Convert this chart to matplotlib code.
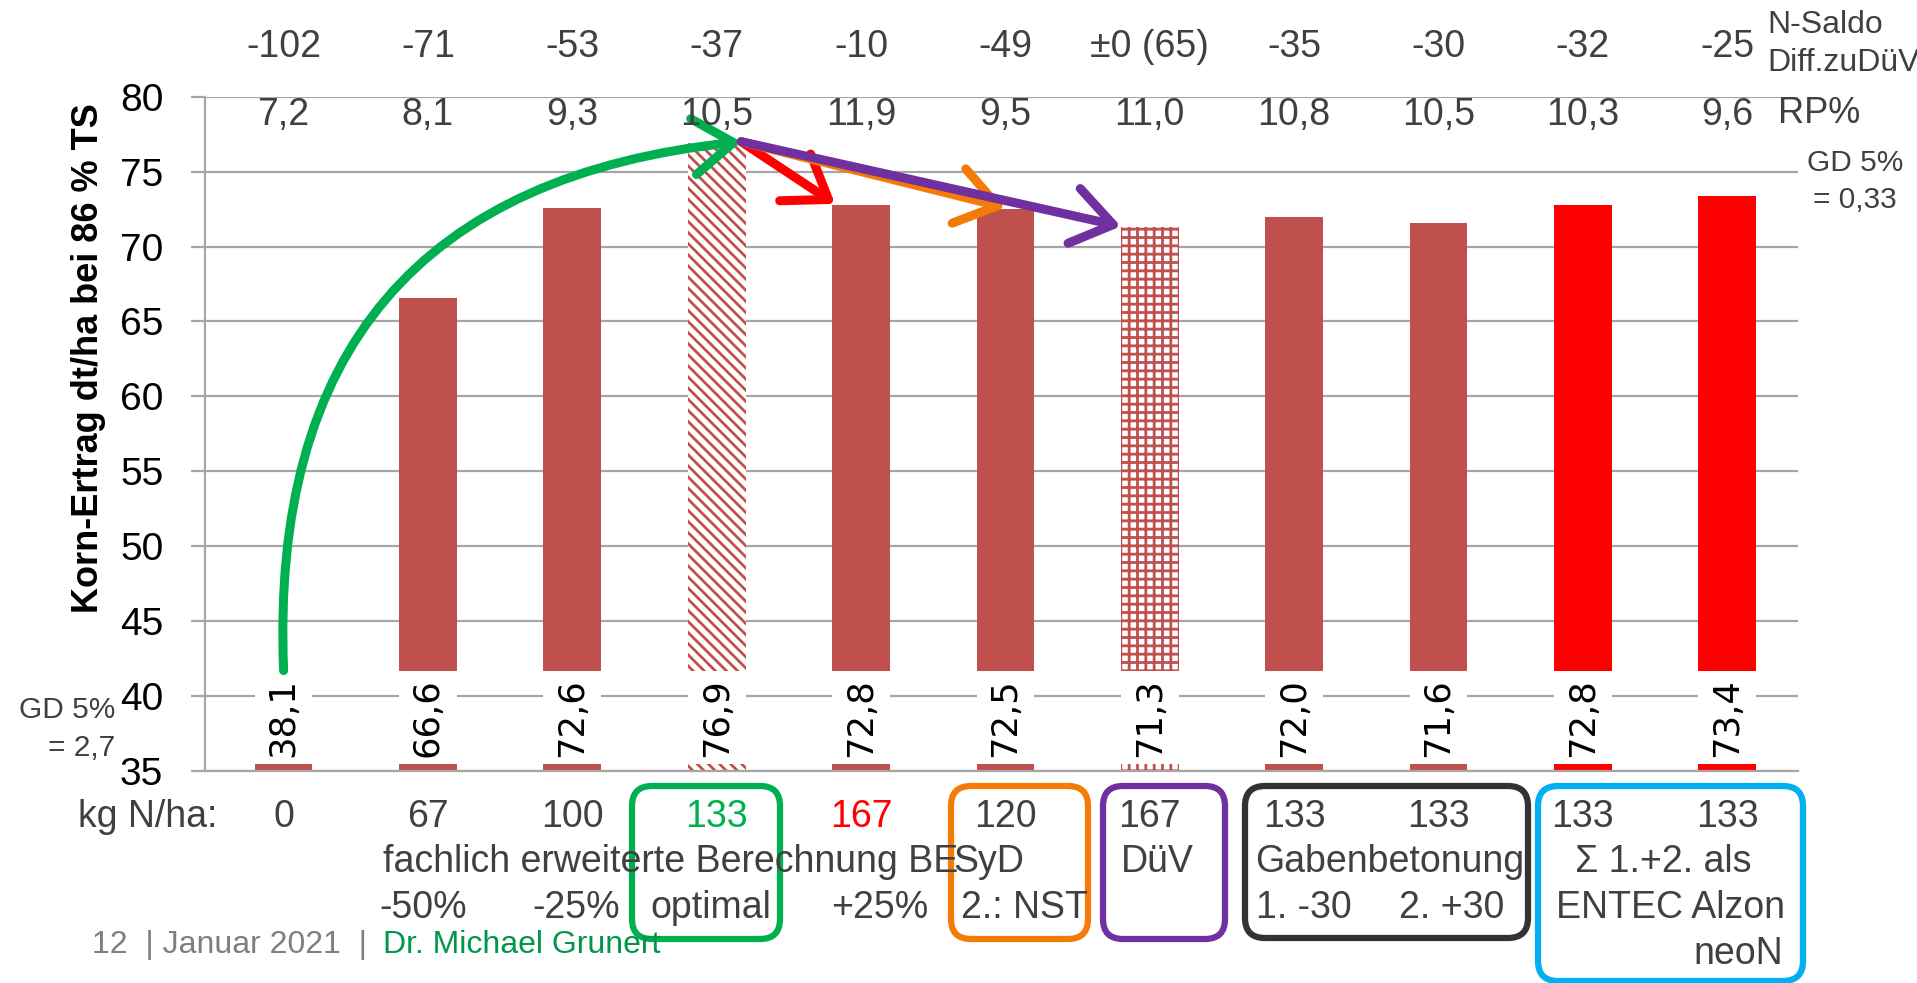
import matplotlib.pyplot as plt
import matplotlib.transforms as mtransforms
from matplotlib.patches import FancyBboxPatch, FancyArrowPatch

# Kornertrag dt/ha bei 86 % TS je Variante
ertrag = [38.1, 66.6, 72.6, 76.9, 72.8, 72.5, 71.3, 72.0, 71.6, 72.8, 73.4]
n_saldo = ['-102', '-71', '-53', '-37', '-10', '-49', '±0 (65)', '-35', '-30', '-32', '-25']
rp_proz = ['7,2', '8,1', '9,3', '10,5', '11,9', '9,5', '11,0', '10,8', '10,5', '10,3', '9,6']
kg_n = ['0', '67', '100', '133', '167', '120', '167', '133', '133', '133', '133']
kg_n_farbe = ['#404040', '#404040', '#404040', '#00B050', '#FF0000', '#404040',
              '#404040', '#404040', '#404040', '#404040', '#404040']
bar_farbe = ['#C0504D'] * 9 + ['#FF0000'] * 2
bar_hatch = [None, None, None, '\\\\\\', None, None, '++', None, None, None, None]

FONT = ['Liberation Sans', 'DejaVu Sans']
DARK = '#404040'
GRID = '#A6A6A6'
plt.rcParams['hatch.linewidth'] = 2.0

fig = plt.figure(figsize=(19.17, 9.83), dpi=100)
ax = fig.add_axes([0.1069, 0.2157, 0.831, 0.6859])

x = list(range(len(ertrag)))
for i in x:
    if bar_hatch[i]:
        ax.bar(i, ertrag[i] - 35, bottom=35, width=0.4, facecolor='white',
               edgecolor=bar_farbe[i], linewidth=0, hatch=bar_hatch[i], zorder=2)
    else:
        ax.bar(i, ertrag[i] - 35, bottom=35, width=0.4, color=bar_farbe[i], zorder=2)

# weisser Bereich fuer die Achsenunterbrechung
ax.bar(x, 41.7 - 35.45, bottom=35.45, width=0.4, color='white', zorder=3)
for i in x:
    ax.text(i, 38.55, f'{ertrag[i]:.1f}'.replace('.', ','), rotation=90,
            ha='center', va='center', fontsize=25.5, family='DejaVu Sans',
            color='black', zorder=4)

ax.set_xlim(-0.545, 10.49)
ax.set_ylim(35, 80)
ax.set_yticks(range(35, 81, 5))
ax.set_xticks([])
ax.set_axisbelow(True)
ax.yaxis.grid(True, color=GRID, linewidth=1.6)
for s in ['top', 'right']:
    ax.spines[s].set_visible(False)
ax.spines['left'].set_color(GRID)
ax.spines['left'].set_linewidth(1.6)
ax.spines['bottom'].set_color(GRID)
ax.spines['bottom'].set_linewidth(1.6)
ax.tick_params(axis='y', length=10, width=1.6, color=GRID, pad=20,
               labelsize=28, labelcolor='black')
for lab in ax.get_yticklabels():
    lab.set_family(FONT)

fig.text(0.046, 0.636, 'Korn-Ertrag dt/ha bei 86 % TS', rotation=90,
         ha='center', va='center', fontsize=26, weight='bold',
         family=FONT, color='black')

tr = mtransforms.blended_transform_factory(ax.transData, fig.transFigure)

def txt(xp, yp, s, ha='center', color=DARK, size=27):
    fig.text(xp, yp, s, transform=tr, ha=ha, va='center', fontsize=size,
             family=FONT, color=color)

for i in x:
    txt(i, 0.952, n_saldo[i])
    txt(i, 0.883, rp_proz[i])
    txt(i, 0.169, kg_n[i], color=kg_n_farbe[i])

txt(-0.46, 0.169, 'kg N/ha:', ha='right')

# Beschriftung der Varianten
txt(0.686, 0.123, 'fachlich erweiterte Berechnung BE', ha='left')
txt(4.64, 0.123, 'SyD', ha='left')
txt(6.05, 0.123, 'DüV')
txt(7.66, 0.123, 'Gabenbetonung')
txt(9.56, 0.123, 'Σ 1.+2. als')
txt(0.97, 0.076, '-50%')
txt(2.03, 0.076, '-25%')
txt(2.96, 0.076, 'optimal')
txt(4.13, 0.076, '+25%')
txt(4.69, 0.076, '2.: NST', ha='left')
txt(7.07, 0.076, '1. -30')
txt(8.09, 0.076, '2. +30')
txt(9.61, 0.076, 'ENTEC Alzon')
txt(10.39, 0.029, 'neoN', ha='right')

def ftxt(xp, yp, s, ha='left', size=23, color=DARK):
    fig.text(xp, yp, s, ha=ha, va='center', fontsize=size, family=FONT, color=color)

ftxt(0.9217, 0.975, 'N-Saldo')
ftxt(0.9217, 0.936, 'Diff.zuDüV')
ftxt(0.9275, 0.885, 'RP%', size=26)
ftxt(0.9677, 0.834, 'GD 5%', ha='center', size=21.5)
ftxt(0.9677, 0.797, '= 0,33', ha='center', size=21.5)
ftxt(0.060, 0.278, 'GD 5%', ha='right', size=21.5)
ftxt(0.060, 0.239, '= 2,7', ha='right', size=21.5)

# Fusszeile
ftxt(0.048, 0.039, '12  | Januar 2021  |', color='#7F7F7F')
ftxt(0.2, 0.039, 'Dr. Michael Grunert', color='#00964B')

# Rahmen um die Variantengruppen (Position in Zoll)
rahmen = [
    (6.32, 0.44, 1.48, 1.53, '#00B050'),
    (9.51, 0.44, 1.37, 1.53, '#F47B07'),
    (11.03, 0.44, 1.22, 1.53, '#7030A0'),
    (12.45, 0.45, 2.83, 1.52, '#333333'),
    (15.38, 0.02, 2.65, 1.95, '#00B0F0'),
]
for rx, ry, rw, rh, rc in rahmen:
    fig.patches.append(FancyBboxPatch((rx, ry), rw, rh,
                                      boxstyle='round,pad=0,rounding_size=0.2',
                                      transform=fig.dpi_scale_trans, fill=False,
                                      edgecolor=rc, linewidth=4.5))

# Pfeile zwischen den Varianten
spitze = (3.17, ertrag[3] + 0.1)
pfeile = [
    ((0, 41.7), spitze, 'arc3,rad=-0.47', '#00B050'),
    (spitze, (3.82, ertrag[4] + 0.05), 'arc3,rad=0', '#FF0000'),
    (spitze, (5.0, ertrag[5] + 0.1), 'arc3,rad=0', '#F47B07'),
    (spitze, (5.8, ertrag[6] + 0.05), 'arc3,rad=0', '#7030A0'),
]
for a, b, cs, c in pfeile:
    ax.add_patch(FancyArrowPatch(a, b, connectionstyle=cs,
                                 arrowstyle='->,head_length=0.6,head_width=0.42',
                                 mutation_scale=48, color=c, linewidth=6.5,
                                 shrinkA=0, shrinkB=0, capstyle='round',
                                 joinstyle='round', zorder=5, clip_on=False))

fig.savefig('out.png')
